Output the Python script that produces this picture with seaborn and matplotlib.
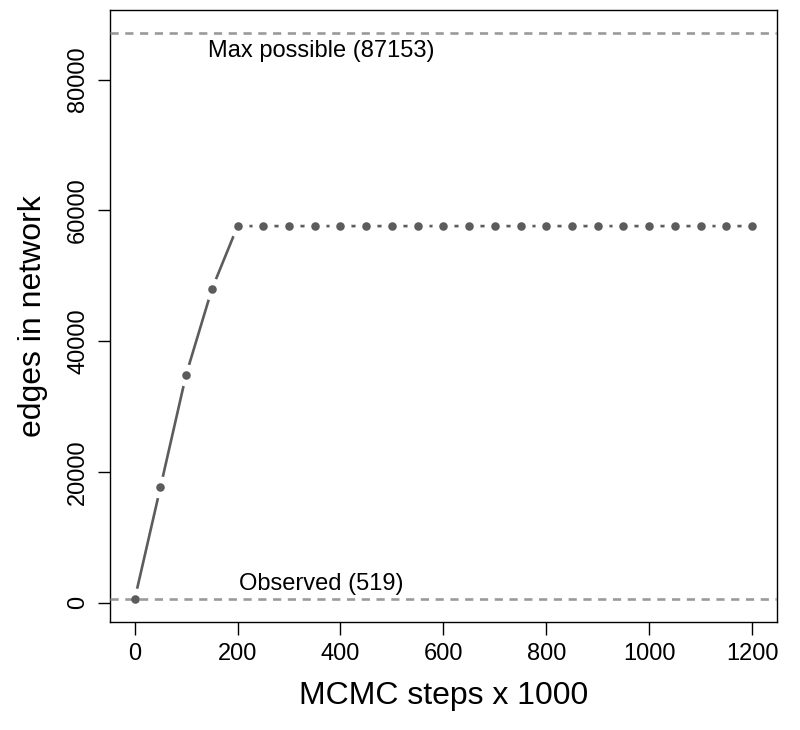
"""MCMC trace of edge count, drawn in an R base-graphics look."""
import matplotlib
import matplotlib.pyplot as plt
import pandas as pd
import seaborn as sns

matplotlib.use('Agg')

# data
steps = [0, 50, 100, 150, 200, 250, 300, 350, 400, 450, 500, 550, 600,
         650, 700, 750, 800, 850, 900, 950, 1000, 1050, 1100, 1150, 1200]
edges = [519, 17650, 34900, 47950, 57600, 57600, 57600, 57600, 57600,
         57600, 57600, 57600, 57600, 57600, 57600, 57600, 57600, 57600,
         57600, 57600, 57600, 57600, 57600, 57600, 57600]
max_possible = 87153
observed = 519
x_ticks = [0, 200, 400, 600, 800, 1000, 1200]
y_ticks = [0, 20000, 40000, 60000, 80000]

df = pd.DataFrame({"steps": steps, "edges": edges})

sns.set_style("ticks")
plt.rcParams['font.family'] = ['Liberation Sans', 'DejaVu Sans']
plt.rcParams.update({
    "text.color": "black",
    "axes.labelcolor": "black",
    "xtick.color": "black",
    "ytick.color": "black",
})

fig, ax = plt.subplots(figsize=(8, 7.3), dpi=100)
fig.subplots_adjust(left=0.1375, right=0.971, bottom=0.148, top=0.986)

line_col = "#5c5c5c"
ref_col = "#9a9a9a"

# R type="b": solid line with gaps around each point
sns.lineplot(data=df, x="steps", y="edges", color=line_col, linewidth=1.9,
             ax=ax, zorder=2)
sns.scatterplot(data=df, x="steps", y="edges", color="white", s=250,
                linewidth=0, ax=ax, zorder=3)

ax.axhline(max_possible, color=ref_col, linewidth=1.9, dashes=(3.1, 2.5), zorder=4)
ax.axhline(observed, color=ref_col, linewidth=1.9, dashes=(3.1, 2.5), zorder=4)

sns.scatterplot(data=df, x="steps", y="edges", color=line_col, s=38,
                linewidth=0, ax=ax, zorder=5)

ax.text(362, 84400, f"Max possible ({max_possible})", ha="center", va="center",
        fontsize=17)
ax.text(362, 2900, f"Observed ({observed})", ha="center", va="center",
        fontsize=17)

ax.set_xlim(-48, 1248)
ax.set_ylim(-2946, 90618)
ax.set_xticks(x_ticks)
ax.set_yticks(y_ticks)
ax.set_yticklabels([str(v) for v in y_ticks], rotation=90, va="center")
ax.tick_params(axis="both", length=9, width=1, labelsize=17, pad=6)

ax.set_xlabel("MCMC steps x 1000", fontsize=23, labelpad=12)
ax.set_ylabel("edges in network", fontsize=23, labelpad=14)

for s in ax.spines.values():
    s.set_visible(True)
    s.set_color("black")
    s.set_linewidth(1.0)

fig.savefig("out.png", dpi=100)
plt.close(fig)
